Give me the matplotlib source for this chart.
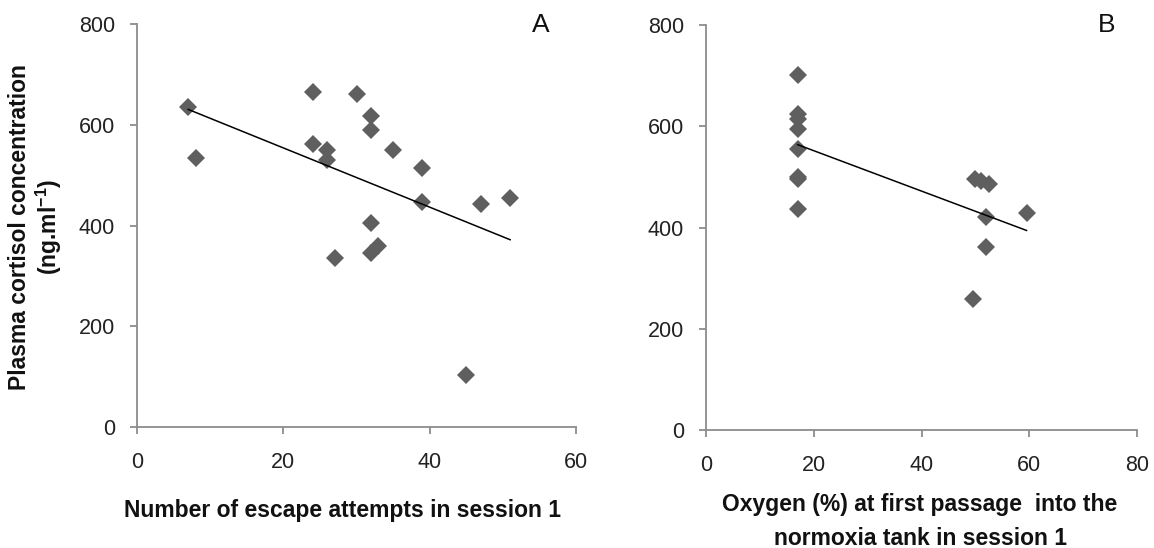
import numpy as np
import matplotlib
matplotlib.use("Agg")
import matplotlib.pyplot as plt

# Panel A: escape attempts vs cortisol
escape_attempts = [7, 8, 24, 30, 32, 32, 24, 26, 26, 35, 39, 39, 47, 51, 32, 33, 32, 27, 45]
cortisol_a = [637, 535, 665, 662, 618, 590, 563, 550, 530, 550, 515, 447, 443, 455, 406, 360, 345, 335, 103]

# Panel B: oxygen at first passage vs cortisol
oxygen_pct = [17, 17, 17, 17, 17, 17, 17, 17, 50, 51, 52.5, 52, 59.5, 52, 49.5]
cortisol_b = [702, 625, 615, 595, 556, 500, 495, 437, 496, 492, 485, 421, 429, 362, 258]

xticks_a = [0, 20, 40, 60]
xticks_b = [0, 20, 40, 60, 80]
yticks = [0, 200, 400, 600, 800]

xlabel_a = "Number of escape attempts in session 1"
xlabel_b = "Oxygen (%) at first passage  into the\nnormoxia tank in session 1"
ylabel = "Plasma cortisol concentration\n(ng.ml$^{-1}$)"

W, H = 1154, 548
fig = plt.figure(figsize=(W / 100, H / 100), dpi=100)
plt.rcParams["mathtext.fontset"] = "custom"
plt.rcParams["mathtext.rm"] = "Liberation Sans:bold"
plt.rcParams["mathtext.it"] = "Liberation Sans:bold"
plt.rcParams["mathtext.bf"] = "Liberation Sans:bold"

marker_col = "#5f5f5f"
spine_col = "#8c8c8c"
tick_font = dict(family="Liberation Sans", size=15.5)
label_font = dict(family="Liberation Sans", size=16.5, weight="bold", color="#111111")

def setup(ax, xticks):
    ax.set_ylim(0, 800)
    ax.set_xlim(xticks[0], xticks[-1])
    ax.set_xticks(xticks)
    ax.set_yticks(yticks)
    for s in ("top", "right"):
        ax.spines[s].set_visible(False)
    for s in ("left", "bottom"):
        ax.spines[s].set_color(spine_col)
        ax.spines[s].set_linewidth(1.3)
    ax.tick_params(direction="out", length=5, width=1.3, color=spine_col)
    ax.tick_params(axis="x", pad=13)
    ax.tick_params(axis="y", pad=11)
    for lab in ax.get_xticklabels() + ax.get_yticklabels():
        lab.set_fontfamily(tick_font["family"])
        lab.set_fontsize(tick_font["size"])
        lab.set_color("#222222")

def fit_line(ax, x, y):
    x = np.asarray(x, float); y = np.asarray(y, float)
    k, b = np.polyfit(x, y, 1)
    xs = np.array([x.min(), x.max()])
    ax.plot(xs, k * xs + b, color="black", lw=1.1, zorder=3)

axA = fig.add_axes([137 / W, 1 - 427 / H, (576 - 137) / W, (427 - 24.5) / H])
axB = fig.add_axes([706 / W, 1 - 430 / H, (1137 - 706) / W, (430 - 25) / H])

for ax, x, y, xt in ((axA, escape_attempts, cortisol_a, xticks_a),
                     (axB, oxygen_pct, cortisol_b, xticks_b)):
    setup(ax, xt)
    ax.plot(x, y, linestyle="none", marker="D", ms=9, color=marker_col,
            markeredgewidth=0, zorder=2)
    fit_line(ax, x, y)

fig.text(541 / W, 1 - 25 / H, "A", ha="center", va="center", fontsize=19,
         family="Liberation Sans", color="#111111")
fig.text(1107 / W, 1 - 25 / H, "B", ha="center", va="center", fontsize=19,
         family="Liberation Sans", color="#111111")

fig.text(343 / W, 1 - 511 / H, xlabel_a, ha="center", va="center", **label_font)
fig.text(920 / W, 1 - 521.5 / H, xlabel_b, ha="center", va="center",
         linespacing=1.65, **label_font)
fig.text(36 / W, 1 - 227 / H, ylabel, ha="center", va="center", rotation=90,
         linespacing=1.15, **label_font)

fig.savefig("out.png", dpi=100)
